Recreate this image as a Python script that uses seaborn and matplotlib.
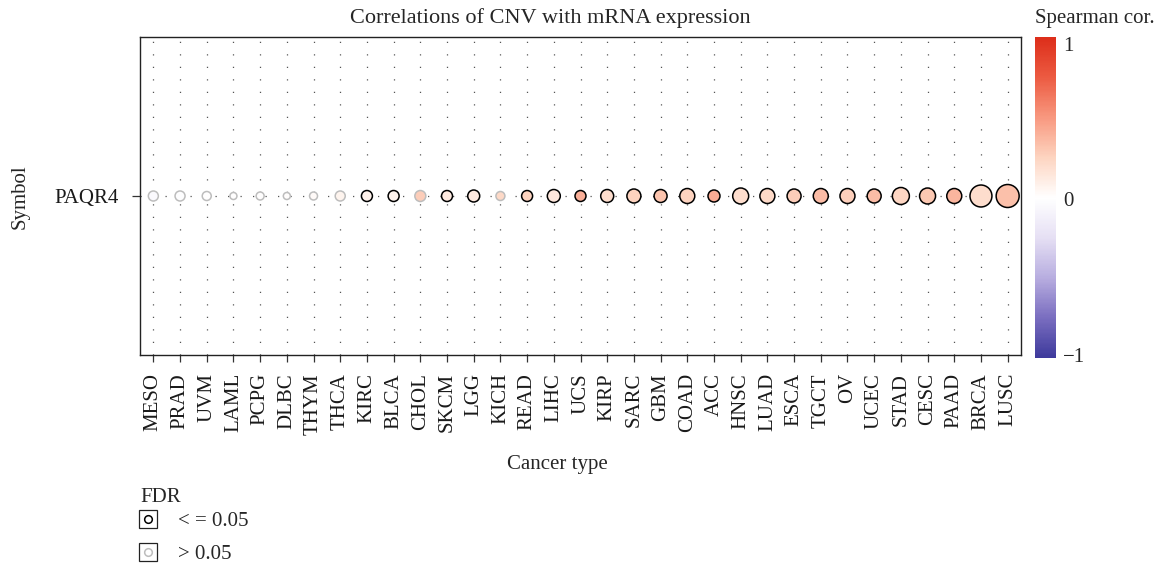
import numpy as np
import pandas as pd
import matplotlib
matplotlib.use("Agg")
import matplotlib.pyplot as plt
import seaborn as sns
from matplotlib.colors import LinearSegmentedColormap, Normalize
from matplotlib.lines import Line2D
from matplotlib.legend_handler import HandlerTuple

# ---------------- data ----------------
cancer_types = ["MESO", "PRAD", "UVM", "LAML", "PCPG", "DLBC", "THYM", "THCA", "KIRC", "BLCA",
                "CHOL", "SKCM", "LGG", "KICH", "READ", "LIHC", "UCS", "KIRP", "SARC", "GBM",
                "COAD", "ACC", "HNSC", "LUAD", "ESCA", "TGCT", "OV", "UCEC", "STAD", "CESC",
                "PAAD", "BRCA", "LUSC"]
spearman = [-0.05, -0.02, 0.0, 0.0, 0.0, 0.01, 0.03, 0.07, 0.08, 0.07,
            0.28, 0.12, 0.12, 0.22, 0.25, 0.14, 0.40, 0.20, 0.25, 0.32,
            0.25, 0.42, 0.20, 0.22, 0.28, 0.35, 0.27, 0.35, 0.24, 0.30,
            0.38, 0.20, 0.33]
neg_log10_fdr = [5.4, 5.4, 3.4, 0.1, 1.6, 0.1, 1.6, 5.4, 7.5, 7.5,
                 7.5, 7.5, 9.9, 3.4, 7.5, 12.5, 7.5, 12.5, 15.3, 12.5,
                 18.3, 9.9, 21.5, 18.3, 15.3, 18.3, 18.3, 15.3, 25.0, 21.5,
                 18.3, 45.0, 49.8]
fdr_sig = [False, False, False, False, False, False, False, False, True, True,
           False, True, True, False, True, True, True, True, True, True,
           True, True, True, True, True, True, True, True, True, True,
           True, True, True]
gene = "PAQR4"

df = pd.DataFrame({"cancer": cancer_types, "symbol": gene, "cor": spearman,
                   "fdr": neg_log10_fdr, "sig": fdr_sig})

# ---------------- style ----------------
sns.set_style("white")
plt.rcParams["font.family"] = ["Liberation Serif", "DejaVu Serif"]
plt.rcParams["axes.unicode_minus"] = True

cmap = LinearSegmentedColormap.from_list(
    "spear",
    [(0.0, "#3E3A9C"), (0.125, "#7A6EC0"), (0.25, "#B8AEE0"), (0.375, "#E6E0F4"),
     (0.5, "#FFFFFF"),
     (0.625, "#FDD4C0"), (0.75, "#F8987F"), (0.875, "#EC5B42"), (1.0, "#DD2E1A")])
norm = Normalize(-1, 1)

fig = plt.figure(figsize=(11.64, 5.69), dpi=100)
W, H = 1164, 569
ax = fig.add_axes([140 / W, 1 - 355 / H, (1021 - 140) / W, (355 - 37) / H])

edgecols = ["#000000" if s else "#BDBDBD" for s in df["sig"]]
sns.scatterplot(data=df, x="cancer", y="symbol", hue="cor", palette=cmap, hue_norm=norm,
                size="fdr", sizes=(25, 275), size_norm=(0, 50),
                edgecolor=edgecols, linewidth=1.1, legend=False, ax=ax, zorder=3)

ax.set_xlim(-0.5, len(cancer_types) - 0.5)
ax.set_ylim(-0.6, 0.6)
ax.grid(True, which="major", color="#555555", linestyle=(0, (1, 9)), linewidth=0.9)
ax.set_axisbelow(True)
for sp in ax.spines.values():
    sp.set_visible(True)
    sp.set_color("#222222")
    sp.set_linewidth(1.0)

ax.tick_params(axis="x", which="major", direction="out", length=5, width=0.9,
               color="#333333", labelsize=15, labelrotation=90, pad=8, bottom=True)
ax.tick_params(axis="y", which="major", direction="out", length=6, width=0.9,
               color="#333333", labelsize=15, pad=9, left=True)
for lab in ax.get_xticklabels() + ax.get_yticklabels():
    lab.set_color("#1a1a1a")

ax.set_xlabel("")
ax.set_ylabel("")
fig.text(557 / W, 1 - 465 / H, "Cancer type", ha="center", va="center", fontsize=15)
fig.text(20 / W, 1 - 197 / H, "Symbol", ha="center", va="center", rotation=90, fontsize=15)
fig.text(550 / W, 1 - 18 / H, "Correlations of CNV with mRNA expression",
         ha="center", va="center", fontsize=16)

# ---------------- colorbar ----------------
cax = fig.add_axes([1035 / W, 1 - 358 / H, 21 / W, (358 - 37) / H])
sm = plt.cm.ScalarMappable(norm=Normalize(-1.02, 1.045), cmap=cmap)
cb = fig.colorbar(sm, cax=cax, ticks=[-1, 0, 1])
cb.outline.set_visible(False)
cb.ax.set_yticklabels(["\u22121", "0", "1"])
cb.ax.tick_params(length=0, labelsize=15, pad=5)
fig.text(1095 / W, 1 - 18 / H, "Spearman cor.", ha="center", va="center", fontsize=15)

# ---------------- FDR legend ----------------
fig.text(140 / W, 1 - 497 / H, "FDR", ha="left", va="center", fontsize=15)
box = dict(marker="s", markersize=13, markerfacecolor="white", markeredgecolor="#222222",
           markeredgewidth=0.9, linestyle="none")
h1 = (Line2D([], [], **box),
      Line2D([], [], marker="o", markersize=5.5, markerfacecolor="white",
             markeredgecolor="#000000", markeredgewidth=1.1, linestyle="none"))
h2 = (Line2D([], [], **box),
      Line2D([], [], marker="o", markersize=5.5, markerfacecolor="white",
             markeredgecolor="#BDBDBD", markeredgewidth=1.1, linestyle="none"))
leg = fig.legend([h1, h2], ["< = 0.05", "> 0.05"],
                 handler_map={tuple: HandlerTuple(ndivide=1, pad=0)},
                 loc="center left", bbox_to_anchor=(138 / W, 1 - 538 / H),
                 frameon=False, fontsize=15,
                 handlelength=1.0, handletextpad=0.9, labelspacing=0.65,
                 borderaxespad=0, borderpad=0)

fig.savefig("out.png", dpi=100)
